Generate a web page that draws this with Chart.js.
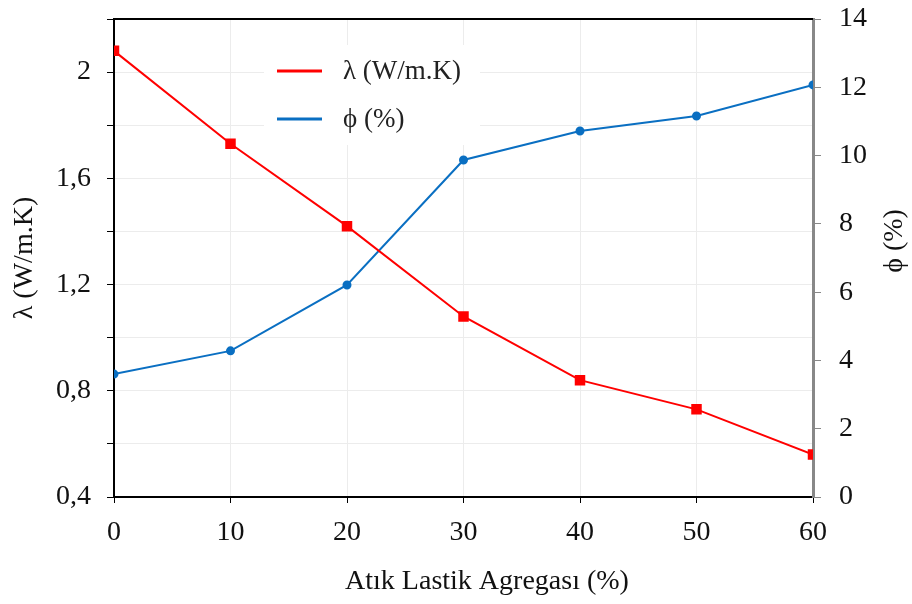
<!DOCTYPE html>
<html>
<head>
<meta charset="utf-8">
<script src="https://cdn.jsdelivr.net/npm/chart.js@4"></script>
<style>
  html, body { margin: 0; padding: 0; background: #fff; }
  #wrap { width: 912px; height: 604px; }
</style>
</head>
<body>
<div id="wrap"><canvas id="chart" width="912" height="604"></canvas></div>
<script>
// atık lastik agregası oranı (%)
const xVals = [0, 10, 20, 30, 40, 50, 60];
// ısı iletkenlik katsayısı λ (W/m.K)
const lambdaVals = [2.08, 1.73, 1.42, 1.08, 0.84, 0.73, 0.56];
// porozite φ (%)
const phiVals = [3.6, 4.28, 6.21, 9.87, 10.72, 11.16, 12.07];

const lambdaLabel = 'λ (W/m.K)';
const phiLabel = 'ϕ (%)';
const xTitle = 'Atık Lastik Agregası (%)';

const FONT = "'Liberation Serif', 'DejaVu Serif', serif";
const tickFont = { family: FONT, size: 28 };

const toPts = arr => arr.map((v, i) => ({ x: xVals[i], y: v }));

// lejant, üst çerçeve ve eksen başlıkları
const decorPlugin = {
  id: 'decor',
  afterDraw(chart) {
    const ctx = chart.ctx;
    const a = chart.chartArea;
    ctx.save();
    // üst çizgi
    ctx.strokeStyle = '#000';
    ctx.lineWidth = 2;
    ctx.beginPath();
    ctx.moveTo(a.left - 1, a.top);
    ctx.lineTo(a.right, a.top);
    ctx.stroke();

    // lejant kutusu
    ctx.fillStyle = '#fff';
    ctx.fillRect(264, 45, 216, 100);
    const items = [
      { text: lambdaLabel, color: '#ff0000', y: 71 },
      { text: phiLabel, color: '#0a6fc2', y: 119 }
    ];
    ctx.font = '27px ' + FONT;
    ctx.textBaseline = 'middle';
    ctx.textAlign = 'left';
    items.forEach(it => {
      ctx.strokeStyle = it.color;
      ctx.lineWidth = 3;
      ctx.beginPath();
      ctx.moveTo(277, it.y);
      ctx.lineTo(322, it.y);
      ctx.stroke();
      ctx.fillStyle = '#222';
      ctx.fillText(it.text, 343, it.y + 1);
    });

    // eksen başlıkları
    ctx.font = '28px ' + FONT;
    ctx.fillStyle = '#111';
    ctx.textAlign = 'center';
    ctx.fillText(xTitle, 487, 582);

    ctx.save();
    ctx.translate(25, 258);
    ctx.rotate(-Math.PI / 2);
    ctx.fillText(lambdaLabel, 0, 0);
    ctx.restore();

    ctx.save();
    ctx.translate(895, 241);
    ctx.rotate(-Math.PI / 2);
    ctx.fillText(phiLabel, 0, 0);
    ctx.restore();

    ctx.restore();
  }
};

new Chart(document.getElementById('chart'), {
  type: 'line',
  data: {
    datasets: [
      {
        label: lambdaLabel,
        data: toPts(lambdaVals),
        borderColor: '#ff0000',
        backgroundColor: '#ff0000',
        borderWidth: 2,
        pointStyle: 'rect',
        pointRadius: 6,
        tension: 0,
        yAxisID: 'y'
      },
      {
        label: phiLabel,
        data: toPts(phiVals),
        borderColor: '#0a6fc2',
        backgroundColor: '#0a6fc2',
        borderWidth: 2,
        pointStyle: 'circle',
        pointRadius: 3.5,
        tension: 0,
        yAxisID: 'y2'
      }
    ]
  },
  options: {
    responsive: false,
    animation: false,
    events: [],
    layout: { padding: { top: 19, left: 0, right: 0, bottom: 0 } },
    plugins: {
      legend: { display: false },
      tooltip: { enabled: false }
    },
    scales: {
      x: {
        type: 'linear',
        min: 0,
        max: 60,
        ticks: { stepSize: 10, font: tickFont, color: '#111', padding: 13 },
        grid: { color: '#ececec', tickColor: '#000', tickLength: 6 },
        border: { color: '#000', width: 2 },
        afterFit: s => { s.height = 107; s.paddingLeft = 0; s.paddingRight = 0; }
      },
      y: {
        position: 'left',
        min: 0.4,
        max: 2.2,
        ticks: {
          stepSize: 0.2,
          autoSkip: false,
          font: tickFont,
          color: '#111',
          padding: 16,
          callback: v => {
            const r = Math.round(v * 10);
            if (r % 4 !== 0) return '';
            return String(r / 10).replace('.', ',');
          }
        },
        grid: { color: '#ececec', tickColor: '#000', tickLength: 7 },
        border: { color: '#000', width: 2 },
        afterFit: s => { s.width = 114; s.paddingTop = 0; s.paddingBottom = 0; }
      },
      y2: {
        position: 'right',
        min: 0,
        max: 14,
        ticks: { stepSize: 2, font: tickFont, color: '#111', padding: 18 },
        grid: { drawOnChartArea: false, tickColor: '#888', tickLength: 8 },
        border: { color: '#888', width: 3 },
        afterFit: s => { s.width = 99; s.paddingTop = 0; s.paddingBottom = 0; }
      }
    }
  },
  plugins: [decorPlugin]
});
</script>
</body>
</html>
